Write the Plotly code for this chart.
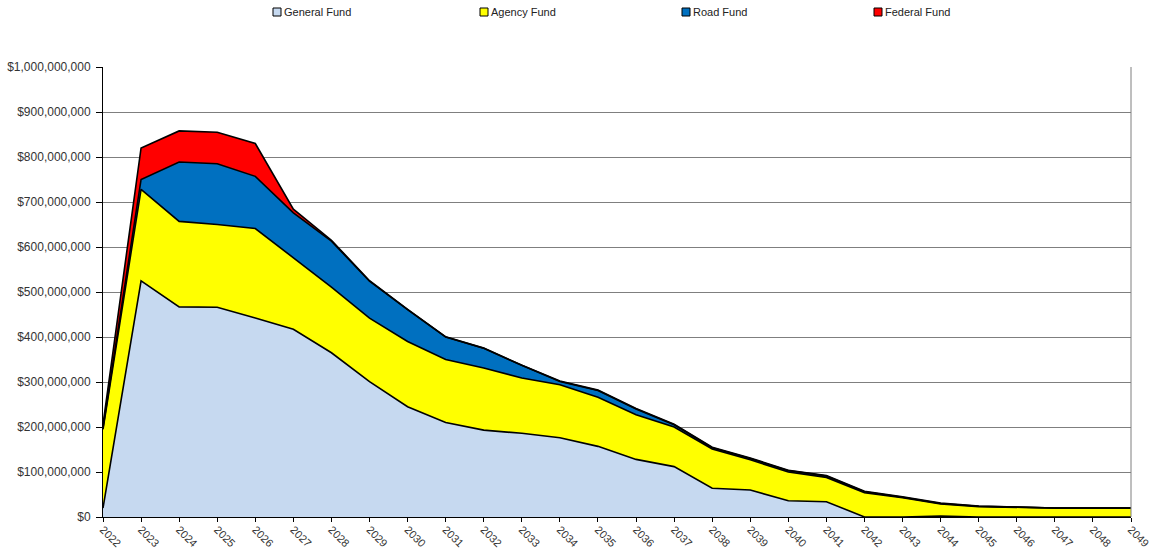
import plotly.graph_objects as go

# Fiscal years on the x-axis
years = list(range(2022, 2050))

# Annual amounts by fund, in millions of dollars
general_fund = [20, 525, 467, 466, 442, 417, 365, 301, 245, 210, 193, 186, 176, 157,
                128, 112, 64, 60, 36, 34, 0, 0, 2, 0, 0, 0, 0, 0]
agency_fund = [175, 203, 190, 184, 199, 159, 146, 141, 145, 140, 138, 123, 118, 109,
               99, 88, 87, 67, 64, 54, 54, 43, 27, 23, 21, 20, 20, 20]
road_fund = [3, 22, 132, 135, 116, 100, 102, 82, 71, 50, 44, 28, 7, 15,
             13, 5, 3, 3, 3, 3, 2, 1, 1, 1, 1, 0, 0, 0]
federal_fund = [8, 70, 69, 70, 73, 8, 2, 1, 0.5, 0.3, 0.3, 0.3, 1, 1,
                1, 1, 1, 1, 1, 1, 1, 1, 1, 0.5, 0.3, 0, 0, 0]

series = [
    ("General Fund", general_fund, "#C6D9F0"),
    ("Agency Fund", agency_fund, "#FFFF00"),
    ("Road Fund", road_fund, "#0070C0"),
    ("Federal Fund", federal_fund, "#FF0000"),
]

# Plot-area geometry in pixels (used to place the legend row above it)
W, H = 1151, 553
M_L, M_R, M_T, M_B = 103, 20, 67, 36
plot_w = W - M_L - M_R
plot_h = H - M_T - M_B

# Left edge (px) of each legend key
legend_key_px = [273, 480, 682, 874]
legend_center_px = 12

fig = go.Figure()
for name, vals, color in series:
    fig.add_trace(go.Scatter(
        x=years,
        y=[v * 1e6 for v in vals],
        name=name,
        mode="lines",
        stackgroup="funds",
        fillcolor=color,
        line=dict(color="#000000", width=1.6),
        showlegend=False,
    ))

shapes = [
    dict(type="line", xref="paper", yref="paper", x0=1, x1=1, y0=0, y1=1,
         line=dict(color="#7f7f7f", width=1)),
]
annotations = []
yc = (H - M_B - legend_center_px) / plot_h
half = 4 / plot_h
for (name, _, color), kx in zip(series, legend_key_px):
    x0 = (kx - M_L) / plot_w
    x1 = (kx + 8 - M_L) / plot_w
    shapes.append(dict(type="rect", xref="paper", yref="paper",
                       x0=x0, x1=x1, y0=yc - half, y1=yc + half,
                       fillcolor=color, line=dict(color="#000000", width=1)))
    annotations.append(dict(text=name, xref="paper", yref="paper",
                            x=(kx + 9 - M_L) / plot_w, y=yc,
                            xanchor="left", yanchor="middle", showarrow=False,
                            font=dict(family="Liberation Sans, Arial", size=11,
                                      color="#222222")))

fig.update_layout(
    width=W,
    height=H,
    margin=dict(l=M_L, r=M_R, t=M_T, b=M_B),
    paper_bgcolor="white",
    plot_bgcolor="white",
    font=dict(family="Liberation Sans, Arial, sans-serif", size=12, color="#333333"),
    showlegend=False,
    xaxis=dict(
        range=[2022, 2049],
        tickmode="linear",
        tick0=2022,
        dtick=1,
        tickangle=45,
        showgrid=False,
        showline=True,
        linecolor="#000000",
        linewidth=1,
        ticks="outside",
        ticklen=4,
        tickcolor="#000000",
        zeroline=False,
        automargin=False,
        ticklabeloverflow="allow",
        ticklabelstandoff=-3,
        tickfont=dict(size=11, color="#333333"),
    ),
    yaxis=dict(
        range=[0, 1e9],
        tickmode="linear",
        tick0=0,
        dtick=1e8,
        tickformat="$,.0f",
        showgrid=True,
        gridcolor="#7f7f7f",
        gridwidth=1,
        showline=True,
        linecolor="#000000",
        linewidth=1,
        ticks="outside",
        ticklen=6,
        tickcolor="#000000",
        zeroline=False,
        automargin=False,
        ticklabelstandoff=3,
        tickfont=dict(size=12, color="#333333"),
    ),
    shapes=shapes,
    annotations=annotations,
)

fig.write_html("out.html")
